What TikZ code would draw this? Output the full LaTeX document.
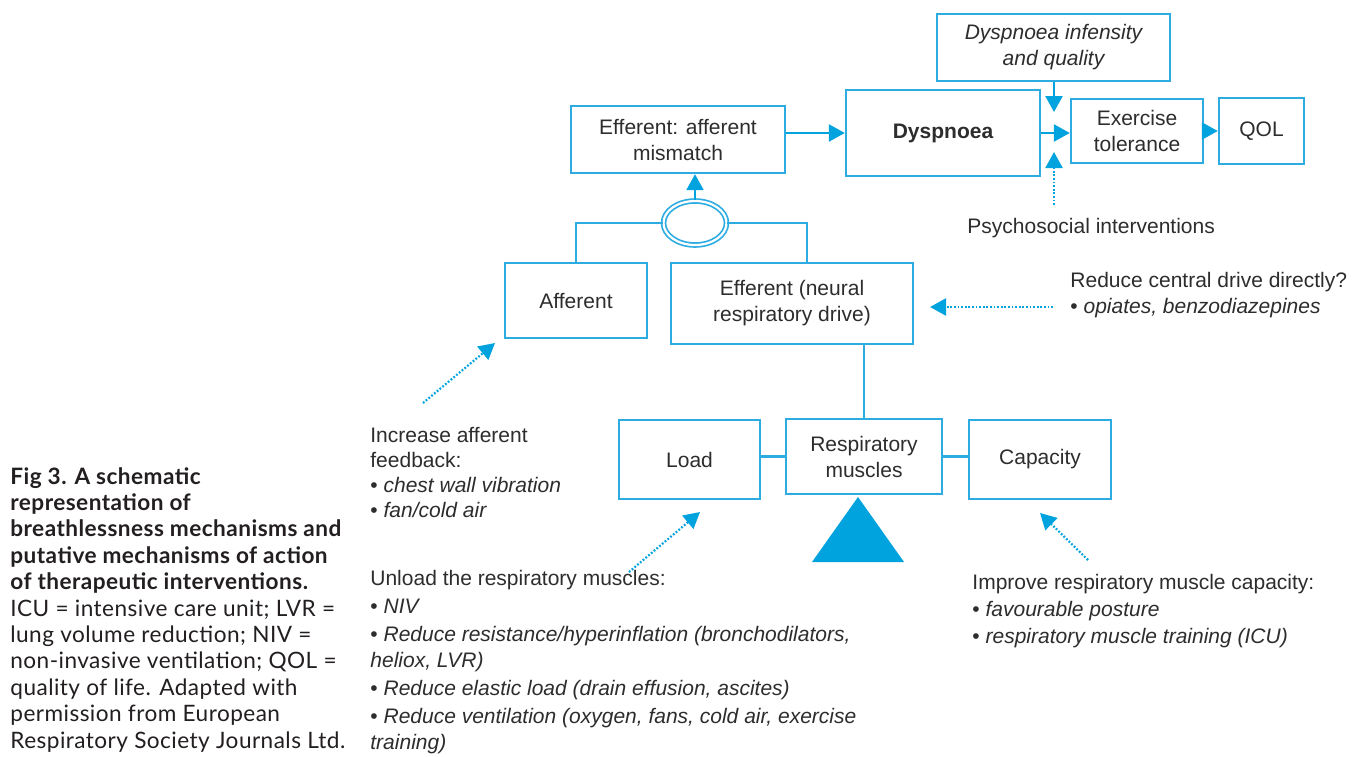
\documentclass[tikz,border=0pt]{standalone}
\usepackage{fontspec}
\setmainfont{Liberation Sans}
\newfontfamily\capfont[LetterSpace=2]{Lato}
\usetikzlibrary{arrows.meta,shapes.geometric}
\definecolor{bl}{RGB}{45,172,226}
\definecolor{bla}{RGB}{0,163,222}
\definecolor{tx}{RGB}{45,45,45}
\definecolor{captx}{RGB}{35,31,32}
\begin{document}
\begin{tikzpicture}[x=0.5pt,y=-0.5pt,
  box/.style={draw=bl,line width=1.2pt,inner sep=0pt,align=center,text=tx,font=\fontsize{10.5}{13}\selectfont},
  boxit/.style={box,font=\fontsize{10.5}{13}\selectfont\itshape},
  conn/.style={draw=bl,line width=1.2pt},
  arr/.style={draw=bla,line width=1.2pt,-{Triangle[length=8pt,width=8.5pt]}},
  darr/.style={draw=bla,line width=1.1pt,dash pattern=on 0.9pt off 0.9pt,-{Triangle[length=8pt,width=8.5pt]}},
  lbl/.style={inner sep=0pt,anchor=base west,text=tx,font=\fontsize{10.5}{13}\selectfont},
]
\useasboundingbox (0,0) rectangle (1368,756);
\fill[white] (0,0) rectangle (1368,756);

% boxes
\node[boxit,minimum width=116.5pt,minimum height=33.5pt] (inten) at (1053.5,47.5) {Dyspnoea infensity\\and quality};
\node[box,minimum width=97pt,minimum height=43pt] (dysp) at (943,133) {\bfseries Dyspnoea};
\node[box,minimum width=107pt,minimum height=33.5pt] (mism) at (678,139.5) {Efferent: afferent\\mismatch};
\node[box,minimum width=66pt,minimum height=32pt] (exer) at (1137,131) {Exercise\\tolerance};
\node[box,minimum width=42.5pt,minimum height=33pt] (qol) at (1261.5,131) {QOL};
\node[box,minimum width=71pt,minimum height=37.5pt] (aff) at (576,300.5) {Afferent};
\node[box,minimum width=121pt,minimum height=40.5pt] (eff) at (792,303.5) {Efferent (neural\\respiratory drive)};
\node[box,minimum width=70.5pt,minimum height=39.5pt] (load) at (689.5,459.5) {Load};
\node[box,minimum width=78pt,minimum height=37.5pt] (resp) at (864,456.5) {Respiratory\\muscles};
\node[box,minimum width=71pt,minimum height=39.5pt] (cap) at (1040,459.5) {Capacity};
\node[draw=bl,double=white,double distance=1.1pt,line width=0.85pt,ellipse,minimum width=31.5pt,minimum height=22pt,inner sep=0pt] (ell) at (695,223) {};

% solid connectors
\draw[arr] (mism.east |- dysp.west) -- (dysp.west);
\coordinate (jt) at (1054,112);
\draw[arr] (inten.south -| jt) -- (jt);
\draw[arr] (dysp.east) -- (dysp.east -| exer.west);
\draw[arr] (exer.east) -- (exer.east -| qol.west);
\draw[arr] (ell.north) -- (ell.north |- mism.south);
\draw[conn] (ell.west) -| (aff.north);
\draw[conn] (ell.east) -| ([xshift=7.5pt]eff.north);
\draw[conn] (eff.south -| resp.north) -- (resp.north);
\draw[conn] (resp.west) -- (resp.west -| load.east);
\draw[conn] (resp.east) -- (resp.east -| cap.west);
\fill[bla] (858,497) -- (812,562) -- (904,562) -- cycle;

% dotted arrows
\coordinate (ps1) at (1054,205); \coordinate (ps2) at (1054,152);
\draw[darr] (ps1) -- (ps2);
\coordinate (dc1) at (1053,307); \coordinate (dc2) at (930,307);
\draw[darr] (dc1) -- (dc2);
\coordinate (da1) at (423,403); \coordinate (da2) at (495,343);
\draw[darr] (da1) -- (da2);
\coordinate (dl1) at (629,572); \coordinate (dl2) at (700,512);
\draw[darr] (dl1) -- (dl2);
\coordinate (dk1) at (1088,560); \coordinate (dk2) at (1040,513);
\draw[darr] (dk1) -- (dk2);

% labels
\node[lbl] (psy) at (967,233) {Psychosocial interventions};
\node[lbl] (central) at (1070,287) {\vtop{\baselineskip=13pt\hbox{Reduce central drive directly?}\hbox{\textbullet\ \textit{opiates, benzodiazepines}}}};
\node[lbl] (incr) at (370,442) {\vtop{\baselineskip=12.5pt\hbox{Increase afferent}\hbox{feedback:}\hbox{\textbullet\ \textit{chest wall vibration}}\hbox{\textbullet\ \textit{fan/cold air}}}};
\node[lbl] (unload) at (370,585) {\vtop{\baselineskip=13pt\hbox{Unload the respiratory muscles:}\vskip1pt\hbox{\textbullet\ \textit{NIV}}\vskip1pt\hbox{\textbullet\ \textit{Reduce resistance/hyperinflation (bronchodilators,}}\hbox{\textit{heliox, LVR)}}\vskip1pt\hbox{\textbullet\ \textit{Reduce elastic load (drain effusion, ascites)}}\vskip1pt\hbox{\textbullet\ \textit{Reduce ventilation (oxygen, fans, cold air, exercise}}\hbox{\textit{training)}}}};
\node[lbl] (improve) at (972,589) {\vtop{\baselineskip=13.5pt\hbox{Improve respiratory muscle capacity:}\hbox{\textbullet\ \textit{favourable posture}}\hbox{\textbullet\ \textit{respiratory muscle training (ICU)}}}};

% caption
\node[inner sep=0pt,anchor=base west,text=captx,font=\capfont\fontsize{11.3}{13.2}\selectfont] (caption) at (10,484) {\vtop{\baselineskip=13.2pt
\hbox{\bfseries Fig 3. A schematic}
\hbox{\bfseries representation of}
\hbox{\bfseries breathlessness mechanisms and}
\hbox{\bfseries putative mechanisms of action}
\hbox{\bfseries of therapeutic interventions.}
\hbox{ICU = intensive care unit; LVR =}
\hbox{lung volume reduction; NIV =}
\hbox{non-invasive ventilation; QOL =}
\hbox{quality of life. Adapted with}
\hbox{permission from European}
\hbox{Respiratory Society Journals Ltd.}}};
\end{tikzpicture}
\end{document}
